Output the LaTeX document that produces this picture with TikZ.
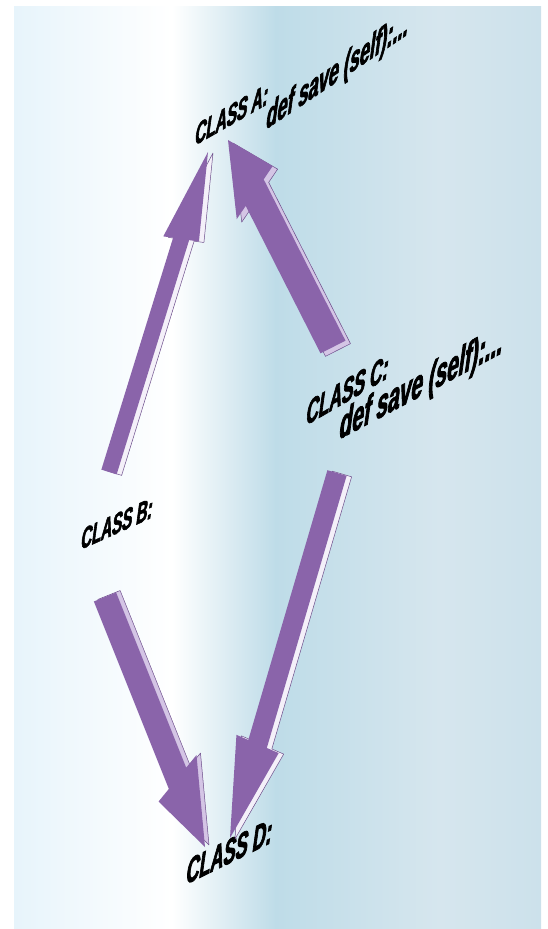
\documentclass[tikz,border=0pt]{standalone}
\usepackage{fontspec}
\newfontfamily\lblfont[FakeSlant=0.15,FakeStretch=0.52,FakeBold=2]{Liberation Sans}
\usetikzlibrary{calc}

\definecolor{arrowface}{HTML}{8A64AA}
\definecolor{arrowedge}{HTML}{6B4C8A}
\definecolor{sidewhite}{HTML}{F4F0F9}
\definecolor{sidelilac}{HTML}{D4C5E5}
\definecolor{bgleft}{HTML}{E7F4FB}
\definecolor{bgdeep}{HTML}{BEDCE8}
\definecolor{bgmid}{HTML}{D6E6EE}
\definecolor{bgright}{HTML}{CCE1EB}

% one flat arrow outline: style, tail, tip, half shaft, half head, head length, skew of the head
\newcommand\arrowbody[7]{%
  \pgfmathsetmacro\barbL{90+#7}%
  \pgfmathsetmacro\barbR{-90+#7}%
  \pgfmathsetmacro\shaftd{#4/cos(#7)}%
  \path ($(#3)!#6pt!(#2)$) coordinate (hb);
  \path[#1] ($(#2)!#4pt!90:(#3)$) -- ($(hb)!\shaftd pt!\barbL:(#3)$)
    -- ($(hb)!#5pt!\barbL:(#3)$) -- (#3) -- ($(hb)!#5pt!\barbR:(#3)$)
    -- ($(hb)!\shaftd pt!\barbR:(#3)$) -- ($(#2)!#4pt!-90:(#3)$) -- cycle;}

% raised arrow: tail, tip, half shaft, half head, head length, skew, depth, side colour
\newcommand\blockarrow[8]{%
  \path ($(#1)+(#7)$) coordinate (dt) ($(#2)+(#7)$) coordinate (dp);
  \arrowbody{fill=#8,draw=arrowedge,line width=0.5pt,line join=round}{dt}{dp}{#3}{#4}{#5}{#6}
  \arrowbody{fill=arrowface}{#1}{#2}{#3}{#4}{#5}{#6}}

\begin{document}
\begin{tikzpicture}[
  x=1pt,y=-1pt,
  lbl/.style={font=\lblfont\bfseries\fontsize{29}{31}\selectfont,anchor=base west,inner sep=0pt},
]
\useasboundingbox (0,0) rectangle (547,929);
% background
\shade[left color=bgleft,right color=white] (14,6) rectangle (172,928);
\shade[left color=white,right color=bgdeep] (172,6) rectangle (276,928);
\shade[left color=bgdeep,right color=bgmid] (275,6) rectangle (440,928);
\shade[left color=bgmid,right color=bgright] (439,6) rectangle (541,928);

% labels
\node[lbl,yslant=0.57,scale=1.02] (classA) at (194,146) {CLASS A:};
\node[lbl,yslant=0.67,scale=1.2] (defA) at (265,130) {def save (self):...};
\node[lbl,yslant=0.45,scale=1.0] (classB) at (80,550) {CLASS B:};
\node[lbl,yslant=0.58,scale=1.15] (classC) at (305,426) {CLASS C:};
\node[lbl,yslant=0.53,scale=1.38] (defC) at (338,440) {def save (self):...};
\node[lbl,yslant=0.49,scale=1.2] (classD) at (185,885) {CLASS D:};

% arrow ends
\coordinate (tailBA) at (109,472);
\coordinate (tipBA) at (208,152);
\coordinate (tailCA) at (333,347);
\coordinate (tipCA) at (228,140);
\coordinate (tailBD) at (105,597);
\coordinate (tipBD) at (205,847);
\coordinate (tailCD) at (337,473);
\coordinate (tipCD) at (230,838);

\blockarrow{tailBA}{tipBA}{8}{18}{91}{9}{5,1}{sidewhite}
\blockarrow{tailCA}{tipCA}{14}{32}{59}{29}{5,3}{sidelilac}
\blockarrow{tailBD}{tipBD}{12}{30}{74}{29}{4,-2}{sidelilac}
\blockarrow{tailCD}{tipCD}{10}{23}{98}{-7}{5,1}{sidewhite}
\end{tikzpicture}
\end{document}
